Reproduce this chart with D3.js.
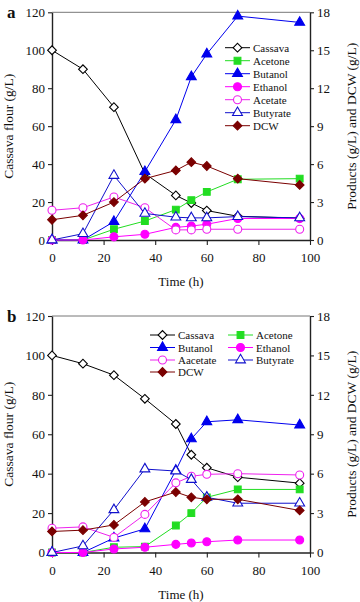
<!DOCTYPE html>
<html><head><meta charset="utf-8">
<script src="https://cdn.jsdelivr.net/npm/d3@7/dist/d3.min.js"></script>
<style>
body{margin:0;background:#fff;}
svg text{font-family:"Liberation Serif","Times New Roman",serif;fill:#111;}
</style></head>
<body>
<svg id="c" width="360" height="602"></svg>
<script>
const times = [0, 12, 24, 36, 48, 54, 60, 72, 96];
const xTicks = [0, 20, 40, 60, 80, 100];
const leftTicks = [0, 20, 40, 60, 80, 100, 120];
const rightTicks = [0, 3, 6, 9, 12, 15, 18];

// Panel a
const cassavaA  = [100, 90, 70, 35, 23.5, 19.5, 15.5, 12.5, 11.5];
const acetoneA  = [0, 0, 0.85, 1.5, 2.4, 3.15, 3.8, 4.8, 4.85];
const butanolA  = [0, 0, 1.45, 5.4, 9.5, 12.9, 14.7, 17.7, 17.2];
const ethanolA  = [0, 0, 0.25, 0.45, 1.0, 1.1, 1.25, 1.7, 1.7];
const acetateA  = [2.35, 2.55, 3.4, 2.55, 0.8, 0.8, 0.85, 0.85, 0.85];
const butyrateA = [0, 0.5, 5.1, 2.1, 1.8, 1.75, 1.75, 1.85, 1.75];
const dcwA      = [1.6, 1.95, 3.0, 4.85, 5.5, 6.15, 5.85, 4.85, 4.35];

// Panel b
const cassavaB  = [100, 95.8, 90, 78, 65.2, 49.6, 43, 38.2, 35.2];
const acetoneB  = [0, 0, 0.4, 0.45, 2.05, 3.0, 4.2, 4.8, 4.8];
const butanolB  = [0, 0, 1.1, 1.8, 6.25, 8.65, 9.95, 10.1, 9.7];
const ethanolB  = [0, 0, 0.27, 0.4, 0.62, 0.72, 0.82, 0.95, 0.95];
const acetateB  = [1.85, 1.95, 1.15, 2.9, 5.3, 5.8, 5.95, 6.0, 5.9];
const butyrateB = [0, 0.5, 3.25, 6.35, 6.2, 5.55, 4.2, 3.75, 3.75];
const dcwB      = [1.6, 1.7, 2.1, 3.85, 4.6, 4.2, 4.05, 4.05, 3.2];

const namesA = ["Cassava", "Acetone", "Butanol", "Ethanol", "Acetate", "Butyrate", "DCW"];
const namesB = ["Cassava", "Acetone", "Butanol", "Ethanol", "Aacetate", "Butyrate", "DCW"];

const styles = [
  {color:"#000000", shape:"diamond", fill:false, axis:"left"},
  {color:"#22dd22", shape:"square", fill:true, axis:"right"},
  {color:"#0000ee", shape:"triangle", fill:true, axis:"right"},
  {color:"#ff00ff", shape:"circle", fill:true, axis:"right"},
  {color:"#ee22ee", shape:"circle", fill:false, axis:"right"},
  {color:"#1010cc", shape:"triangle", fill:false, axis:"right"},
  {color:"#7a0000", shape:"diamond", fill:true, axis:"right"}
];

const svg = d3.select("#c");

function marker(g, shape, fill, color, x, y) {
  let sym, size, rot = 0;
  if (shape === "triangle") { sym = d3.symbolTriangle; size = 42; }
  else if (shape === "square") { sym = d3.symbolSquare; size = 46; }
  else if (shape === "circle") { sym = d3.symbolCircle; size = 50; }
  else { sym = d3.symbolSquare; size = 38; rot = 45; }
  g.append("path")
    .attr("d", d3.symbol().type(sym).size(size)())
    .attr("transform", `translate(${x},${y}) rotate(${rot})`)
    .attr("fill", fill ? color : "#fff")
    .attr("stroke", color)
    .attr("stroke-width", 1.1);
}

function panel(cfg) {
  const x = d3.scaleLinear().domain([0, 100]).range([52, 310]);
  const yL = d3.scaleLinear().domain([0, 120]).range([cfg.bottom, cfg.top]);
  const yR = d3.scaleLinear().domain([0, 18]).range([cfg.bottom, cfg.top]);
  const g = svg.append("g");

  // top frame
  g.append("line").attr("x1", x(0)).attr("x2", x(100))
    .attr("y1", cfg.top).attr("y2", cfg.top)
    .attr("stroke", "#777").attr("stroke-width", 1);

  const ax = g.append("g").attr("transform", `translate(0,${cfg.bottom})`)
    .call(d3.axisBottom(x).tickValues(xTicks).tickSize(5).tickSizeOuter(0).tickPadding(8));
  const al = g.append("g").attr("transform", `translate(${x(0)},0)`)
    .call(d3.axisLeft(yL).tickValues(leftTicks).tickSize(4).tickSizeOuter(0).tickPadding(3));
  const ar = g.append("g").attr("transform", `translate(${x(100)},0)`)
    .call(d3.axisRight(yR).tickValues(rightTicks).tickSize(4).tickSizeOuter(0).tickPadding(3));
  [ax, al, ar].forEach(a => {
    a.selectAll("text").style("font-family", "Liberation Serif").style("font-size", "13px").attr("fill", "#111");
    a.select(".domain").attr("stroke", "#222").attr("stroke-width", 1.4);
    a.selectAll(".tick line").attr("stroke", "#222").attr("stroke-width", 1.1);
  });

  // titles
  g.append("text").attr("x", (x(0) + x(100)) / 2).attr("y", cfg.bottom + 46)
    .attr("text-anchor", "middle").style("font-size", "13px").text("Time (h)");
  g.append("text").attr("transform", `translate(13,${(cfg.top + cfg.bottom) / 2}) rotate(-90)`)
    .attr("text-anchor", "middle").style("font-size", "13.5px").text("Cassava flour (g/L)");
  g.append("text").attr("transform", `translate(356,${(cfg.top + cfg.bottom) / 2}) rotate(-90)`)
    .attr("text-anchor", "middle").style("font-size", "13.5px").text("Products (g/L) and DCW (g/L)");
  g.append("text").attr("x", 7).attr("y", cfg.top + 6)
    .style("font-size", "17px").style("font-weight", "bold").text(cfg.label);

  // series
  cfg.series.forEach((vals, i) => {
    const st = styles[i];
    const ys = st.axis === "left" ? yL : yR;
    const line = d3.line().x((d, j) => x(times[j])).y(d => ys(d));
    g.append("path").datum(vals).attr("d", line)
      .attr("fill", "none").attr("stroke", st.color).attr("stroke-width", 1);
    vals.forEach((v, j) => marker(g, st.shape, st.fill, st.color, x(times[j]), ys(v)));
  });

  // legend
  cfg.legend.forEach(item => {
    const st = styles[item.i];
    g.append("line").attr("x1", item.x).attr("x2", item.x + 25)
      .attr("y1", item.y).attr("y2", item.y)
      .attr("stroke", st.color).attr("stroke-width", 1);
    marker(g, st.shape, st.fill, st.color, item.x + 12.5, item.y);
    g.append("text").attr("x", item.x + 28).attr("y", item.y + 4)
      .style("font-size", "11px").text(cfg.names[item.i]);
  });
}

panel({
  label: "a", top: 12.3, bottom: 240,
  series: [cassavaA, acetoneA, butanolA, ethanolA, acetateA, butyrateA, dcwA],
  names: namesA,
  legend: namesA.map((n, i) => ({i, x: 225, y: 47.7 + i * 13}))
});

panel({
  label: "b", top: 316, bottom: 552.5,
  series: [cassavaB, acetoneB, butanolB, ethanolB, acetateB, butyrateB, dcwB],
  names: namesB,
  legend: [
    {i:0, x:150, y:335}, {i:1, x:228, y:335},
    {i:2, x:150, y:347.5}, {i:3, x:228, y:347.5},
    {i:4, x:150, y:360}, {i:5, x:228, y:360},
    {i:6, x:150, y:372}
  ]
});
</script>
</body></html>
